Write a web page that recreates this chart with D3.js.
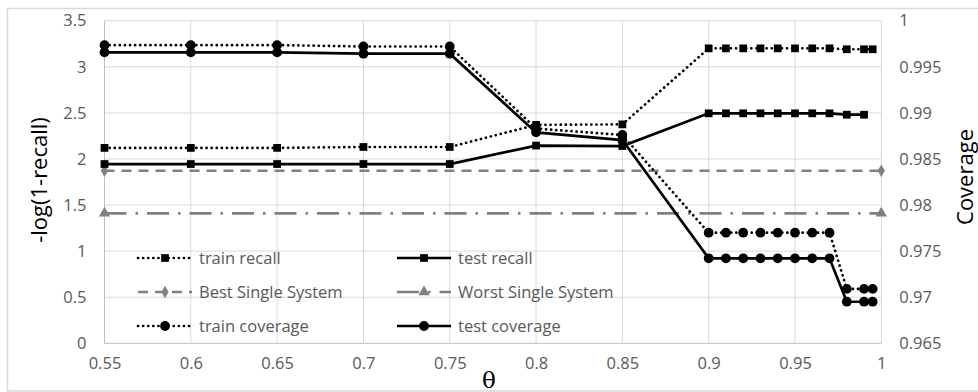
<!DOCTYPE html>
<html lang="en">
<head>
<meta charset="utf-8">
<title>theta chart</title>
<script src="https://cdn.jsdelivr.net/npm/d3@7"></script>
<style>
  body { margin: 0; background: #fff; }
  text { font-family: "Open Sans", sans-serif; fill: #595959; }
</style>
</head>
<body>
<script>
// data
var theta = [0.55, 0.6, 0.65, 0.7, 0.75, 0.8, 0.85, 0.9, 0.91, 0.92, 0.93, 0.94, 0.95, 0.96, 0.97, 0.98, 0.99, 0.995];
var trainRecall = [2.12, 2.12, 2.12, 2.13, 2.13, 2.37, 2.375, 3.2, 3.2, 3.2, 3.2, 3.2, 3.2, 3.2, 3.2, 3.19, 3.19, 3.19];
var testRecall = [1.945, 1.945, 1.945, 1.945, 1.945, 2.145, 2.14, 2.495, 2.495, 2.495, 2.495, 2.495, 2.495, 2.495, 2.495, 2.48, 2.48, null];
var trainCoverage = [0.99735, 0.99735, 0.99735, 0.9972, 0.9972, 0.9883, 0.9876, 0.9770, 0.9770, 0.9770, 0.9770, 0.9770, 0.9770, 0.9770, 0.9770, 0.9709, 0.9709, 0.9709];
var testCoverage = [0.99656, 0.99656, 0.99656, 0.99642, 0.99642, 0.98788, 0.98705, 0.97422, 0.97422, 0.97422, 0.97422, 0.97422, 0.97422, 0.97422, 0.97422, 0.96951, 0.96951, 0.96951];
var thetaEnds = [0.55, 1];
var bestSingle = [1.872, 1.872];
var worstSingle = [1.41, 1.41];

var xTicks = [0.55, 0.6, 0.65, 0.7, 0.75, 0.8, 0.85, 0.9, 0.95, 1];
var xTickLabels = ["0.55", "0.6", "0.65", "0.7", "0.75", "0.8", "0.85", "0.9", "0.95", "1"];
var yTicks = [0, 0.5, 1, 1.5, 2, 2.5, 3, 3.5];
var yTickLabels = ["0", "0.5", "1", "1.5", "2", "2.5", "3", "3.5"];
var y2Ticks = [0.965, 0.97, 0.975, 0.98, 0.985, 0.99, 0.995, 1];
var y2TickLabels = ["0.965", "0.97", "0.975", "0.98", "0.985", "0.99", "0.995", "1"];

var w = 978, h = 392;
var plotLeft = 104.5, plotRight = 881.3, plotTop = 20.7, plotBottom = 343.3;

var svg = d3.select("body").append("svg")
    .attr("width", w)
    .attr("height", h);

// chart border
svg.append("rect")
    .attr("x", 7.5).attr("y", 8.5)
    .attr("width", 975).attr("height", 382.5)
    .attr("fill", "none").attr("stroke", "#d9d9d9").attr("stroke-width", 1.5);

var x = d3.scaleLinear().domain([0.55, 1]).range([plotLeft, plotRight]);
var y = d3.scaleLinear().domain([0, 3.5]).range([plotBottom, plotTop]);
var y2 = d3.scaleLinear().domain([0.965, 1]).range([plotBottom, plotTop]);

// gridlines
svg.append("g").selectAll("line").data(yTicks).enter().append("line")
    .attr("x1", plotLeft).attr("x2", plotRight)
    .attr("y1", function(d) { return y(d); }).attr("y2", function(d) { return y(d); })
    .attr("stroke", function(d) { return d == 0 ? "#bfbfbf" : "#d9d9d9"; });
svg.append("g").selectAll("line").data(xTicks).enter().append("line")
    .attr("y1", plotTop).attr("y2", plotBottom)
    .attr("x1", function(d) { return x(d); }).attr("x2", function(d) { return x(d); })
    .attr("stroke", function(d) { return d == 0.55 ? "#bfbfbf" : "#d9d9d9"; });

// axes (labels only)
var xAxis = d3.axisBottom(x).tickValues(xTicks).tickSize(0).tickPadding(14)
    .tickFormat(function(d, i) { return xTickLabels[i]; });
var yAxis = d3.axisLeft(y).tickValues(yTicks).tickSize(0).tickPadding(18)
    .tickFormat(function(d, i) { return yTickLabels[i]; });
var y2Axis = d3.axisRight(y2).tickValues(y2Ticks).tickSize(0).tickPadding(18)
    .tickFormat(function(d, i) { return y2TickLabels[i]; });

[ [xAxis, "translate(0," + plotBottom + ")"],
  [yAxis, "translate(" + plotLeft + ",0)"],
  [y2Axis, "translate(" + plotRight + ",0)"] ].forEach(function(a) {
    var g = svg.append("g").attr("transform", a[1]).call(a[0]);
    g.select(".domain").remove();
    g.selectAll("text").style("font-size", "16.5px").style("font-family", "Open Sans").attr("fill", "#595959");
});

// axis titles
svg.append("text").attr("transform", "translate(47,180) rotate(-90)")
    .attr("text-anchor", "middle").style("font-size", "22px").style("fill", "#000")
    .text("-log(1-recall)");
svg.append("text").attr("transform", "translate(973,177) rotate(-90)")
    .attr("text-anchor", "middle").style("font-size", "22px").style("fill", "#000")
    .text("Coverage");
svg.append("text").attr("x", 489).attr("y", 388)
    .attr("text-anchor", "middle").style("font-family", "DejaVu Serif").style("font-size", "23px").style("fill", "#000")
    .text("θ");

var grey = "#808080";

function series(xs, ys, yScale, style) {
    var pts = xs.map(function(d, i) { return [d, ys[i]]; }).filter(function(p) { return p[1] != null; });
    var line = d3.line().x(function(p) { return x(p[0]); }).y(function(p) { return yScale(p[1]); });
    svg.append("path").datum(pts)
        .attr("d", line)
        .attr("fill", "none")
        .attr("stroke", style.color)
        .attr("stroke-width", style.width)
        .attr("stroke-dasharray", style.dash)
        .attr("stroke-linecap", style.cap || "butt");
    var mk = style.markerAt ? pts.filter(function(p, i) { return style.markerAt.indexOf(i) >= 0; }) : pts;
    svg.append("g").selectAll("path").data(mk).enter().append("path")
        .attr("transform", function(p) { return "translate(" + x(p[0]) + "," + yScale(p[1]) + ")"; })
        .attr("d", d3.symbol().type(style.symbol).size(style.size))
        .attr("fill", style.color);
}

var styles = {
    trainRecall: { color: "#000", width: 2.7, dash: "0.1,5", cap: "round", symbol: d3.symbolSquare, size: 60 },
    testRecall: { color: "#000", width: 2.7, dash: null, symbol: d3.symbolSquare, size: 60 },
    best: { color: grey, width: 2.7, dash: "10,7", symbol: d3.symbolDiamond, size: 45, markerAt: [0, 1] },
    worst: { color: grey, width: 2.7, dash: "22,9,2.5,9", symbol: d3.symbolTriangle, size: 55, markerAt: [0, 1] },
    trainCov: { color: "#000", width: 2.7, dash: "0.1,5", cap: "round", symbol: d3.symbolCircle, size: 75 },
    testCov: { color: "#000", width: 2.7, dash: null, symbol: d3.symbolCircle, size: 75 }
};

series(thetaEnds, bestSingle, y, styles.best);
series(thetaEnds, worstSingle, y, styles.worst);
series(theta, trainRecall, y, styles.trainRecall);
series(theta, testRecall, y, styles.testRecall);
series(theta, trainCoverage, y2, styles.trainCov);
series(theta, testCoverage, y2, styles.testCov);

// legend
var legendItems = [
    ["train recall", styles.trainRecall, 138, 258],
    ["test recall", styles.testRecall, 397, 258],
    ["Best Single System", styles.best, 138, 292],
    ["Worst Single System", styles.worst, 397, 292],
    ["train coverage", styles.trainCov, 138, 326],
    ["test coverage", styles.testCov, 397, 326]
];
legendItems.forEach(function(it) {
    var s = it[1], lx = it[2], ly = it[3];
    var g = svg.append("g");
    g.append("line").attr("x1", lx).attr("x2", lx + 54).attr("y1", ly).attr("y2", ly)
        .attr("stroke", s.color).attr("stroke-width", s.width)
        .attr("stroke-dasharray", s.dash).attr("stroke-linecap", s.cap || "butt");
    g.append("path").attr("transform", "translate(" + (lx + 27) + "," + ly + ")")
        .attr("d", d3.symbol().type(s.symbol).size(s.size)).attr("fill", s.color);
    g.append("text").attr("x", lx + 61).attr("y", ly + 6)
        .style("font-size", "16.5px").text(it[0]);
});
</script>
</body>
</html>
